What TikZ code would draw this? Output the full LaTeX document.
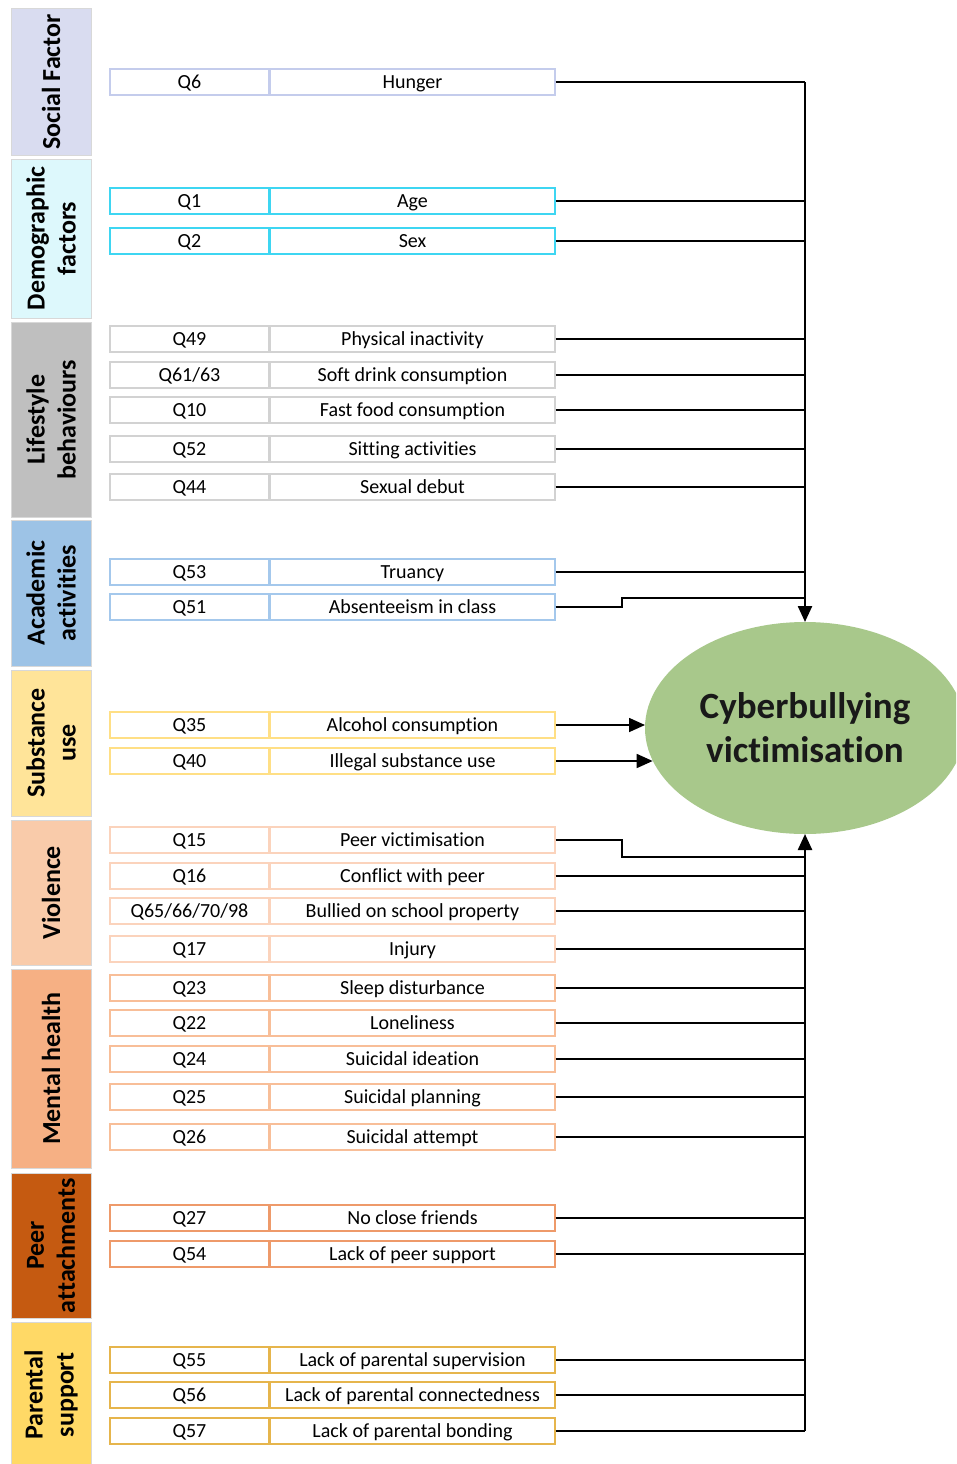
\documentclass[tikz,border=0pt]{standalone}
\usepackage{fontspec}
\setmainfont{Carlito}[RawFeature={-liga}]
\usetikzlibrary{arrows.meta,shapes.geometric}
\definecolor{fsoc}{HTML}{D9DCF0}\definecolor{bsoc}{HTML}{C4CCEC}
\definecolor{fdem}{HTML}{DDF8FC}\definecolor{bdem}{HTML}{3ED6F2}
\definecolor{flif}{HTML}{BFBFBF}\definecolor{blif}{HTML}{D2D2D2}
\definecolor{facad}{HTML}{9DC3E6}\definecolor{bacad}{HTML}{A4C8EC}
\definecolor{fsub}{HTML}{FFE499}\definecolor{bsub}{HTML}{FFDF85}
\definecolor{fvio}{HTML}{F9CBAA}\definecolor{bvio}{HTML}{FBD3BC}
\definecolor{fmen}{HTML}{F6B084}\definecolor{bmen}{HTML}{F8BE98}
\definecolor{fpeer}{HTML}{C55A11}\definecolor{bpeer}{HTML}{EE9A6A}
\definecolor{fpar}{HTML}{FFD966}\definecolor{bpar}{HTML}{E6B54C}
\definecolor{ellfill}{HTML}{A8C88B}
\definecolor{catborder}{HTML}{D8D8D8}
\tikzset{
  catbox/.style={draw=catborder, line width=1pt, minimum height=80pt, inner sep=0pt,
    align=center, rotate=90, font=\fontsize{26}{31}\selectfont\bfseries},
  qbox/.style={fill=white, line width=1.3pt, minimum width=159pt, minimum height=26pt,
    inner sep=0pt, text height=15pt, text depth=2pt, font=\fontsize{20}{24}\selectfont},
  lbox/.style={fill=white, line width=1.3pt, minimum width=285pt, minimum height=26pt,
    inner sep=0pt, text height=15pt, text depth=2pt, font=\fontsize{20}{24}\selectfont},
  conn/.style={line width=1.7pt, black},
  trunk/.style={line width=2.4pt, black},
  tip/.style={-{Triangle[width=14pt,length=16pt]}}
}
\newcommand{\qrow}[5]{%
  \node[qbox, draw=#5] (q#1) at (189.5,#2) {#3};
  \node[lbox, draw=#5] (l#1) at (412.5,#2) {#4};
}
\begin{document}
\begin{tikzpicture}[x=1pt,y=-1pt]
\clip (0,0) rectangle (956,1464);
\fill[white] (0,0) rectangle (956,1464);
% category boxes
\node[catbox, fill=fsoc, minimum width=146pt] (csoc) at (51,82) {Social Factor};
\node[catbox, fill=fdem, minimum width=159pt] (cdem) at (51,238.5) {Demographic\\factors};
\node[catbox, fill=flif, minimum width=195pt] (clif) at (51,419.5) {Lifestyle\\behaviours};
\node[catbox, fill=facad, minimum width=146pt] (cacad) at (51,593) {Academic\\activities};
\node[catbox, fill=fsub, minimum width=146pt] (csub) at (51,743) {Substance\\use};
\node[catbox, fill=fvio, minimum width=145pt] (cvio) at (51,892.5) {Violence};
\node[catbox, fill=fmen, minimum width=199pt] (cmen) at (51,1068.5) {Mental health};
\node[catbox, fill=fpeer, minimum width=145pt] (cpeer) at (51,1245.5) {Peer\\attachments};
\node[catbox, fill=fpar, minimum width=146pt] (cpar) at (51,1395) {Parental\\support};
% rows
\qrow{6}{82}{Q6}{Hunger}{bsoc}
\qrow{1}{201}{Q1}{Age}{bdem}
\qrow{2}{241}{Q2}{Sex}{bdem}
\qrow{49}{339}{Q49}{Physical inactivity}{blif}
\qrow{61}{375}{Q61/63}{Soft drink consumption}{blif}
\qrow{10}{410}{Q10}{Fast food consumption}{blif}
\qrow{52}{449}{Q52}{Sitting activities}{blif}
\qrow{44}{487}{Q44}{Sexual debut}{blif}
\qrow{53}{572}{Q53}{Truancy}{bacad}
\qrow{51}{607}{Q51}{Absenteeism in class}{bacad}
\qrow{35}{725}{Q35}{Alcohol consumption}{bsub}
\qrow{40}{761}{Q40}{Illegal substance use}{bsub}
\qrow{15}{840}{Q15}{Peer victimisation}{bvio}
\qrow{16}{876}{Q16}{Conflict with peer}{bvio}
\qrow{65}{911}{Q65/66/70/98}{Bullied on school property}{bvio}
\qrow{17}{949}{Q17}{Injury}{bvio}
\qrow{23}{988}{Q23}{Sleep disturbance}{bmen}
\qrow{22}{1023}{Q22}{Loneliness}{bmen}
\qrow{24}{1059}{Q24}{Suicidal ideation}{bmen}
\qrow{25}{1097}{Q25}{Suicidal planning}{bmen}
\qrow{26}{1137}{Q26}{Suicidal attempt}{bmen}
\qrow{27}{1218}{Q27}{No close friends}{bpeer}
\qrow{54}{1254}{Q54}{Lack of peer support}{bpeer}
\qrow{55}{1360}{Q55}{Lack of parental supervision}{bpar}
\qrow{56}{1395}{Q56}{Lack of parental connectedness}{bpar}
\qrow{57}{1431}{Q57}{Lack of parental bonding}{bpar}
% outcome
\node[ellipse, fill=ellfill, minimum width=320pt, minimum height=212pt, inner sep=0pt, outer sep=0pt,
  align=center, font=\fontsize{37}{44}\selectfont\bfseries, text=black!90] (ell) at (805,728)
  {Cyberbullying\\victimisation};
% jog coordinates
\coordinate (j51) at (622,598);
\coordinate (j15) at (622,857);
% top connectors
\draw[trunk, tip] (l6.east -| ell.north) -- (ell.north);
\foreach \r in {6,1,2,49,61,10,52,44,53}{
  \draw[conn] (l\r.east) -- (l\r.east -| ell.north);
}
\draw[conn] (l51.east) -| (j51) -- (j51 -| ell.north);
% substance arrows
\draw[conn, tip] (l35.east) -- (l35.east -| ell.west);
\draw[conn, tip] (l40.east) -- (l40.east -| ell.192);
% bottom connectors
\draw[trunk, tip] (l57.east -| ell.south) -- (ell.south);
\draw[conn] (l15.east) -| (j15) -- (j15 -| ell.south);
\foreach \r in {16,65,17,23,22,24,25,26,27,54,55,56,57}{
  \draw[conn] (l\r.east) -- (l\r.east -| ell.south);
}
\end{tikzpicture}
\end{document}
